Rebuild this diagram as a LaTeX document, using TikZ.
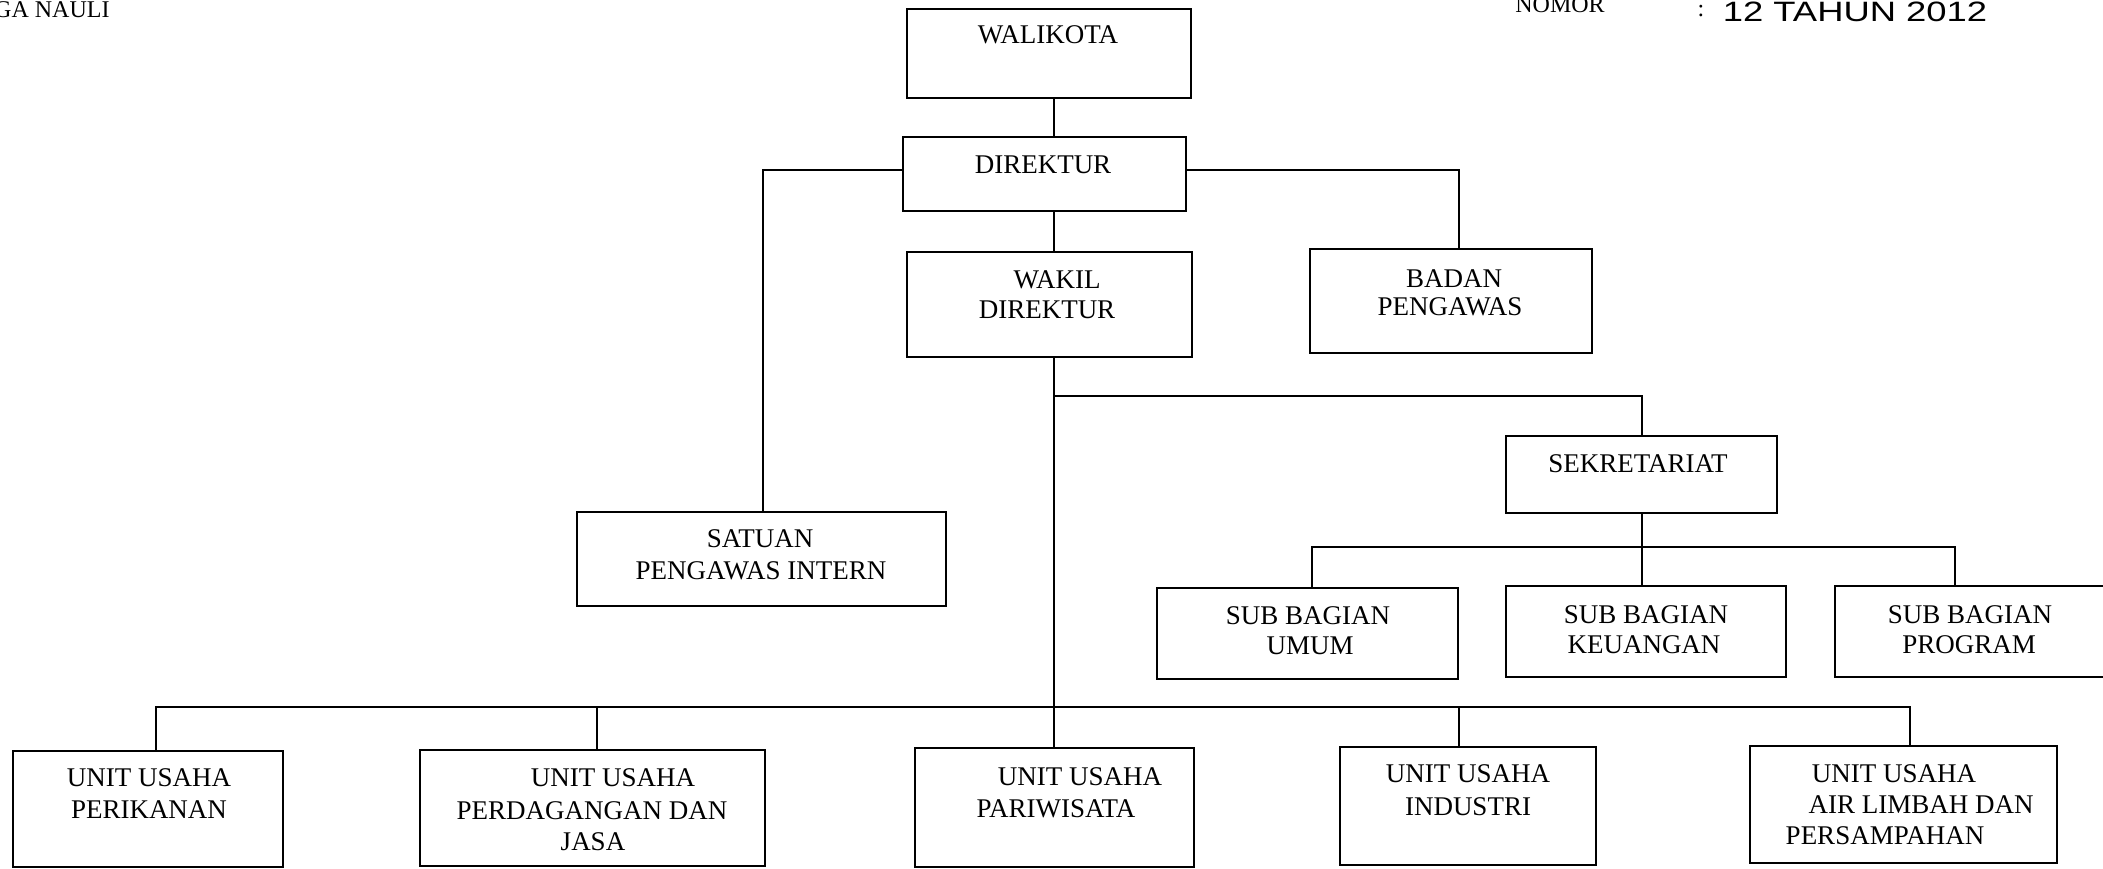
\documentclass[tikz,border=0pt]{standalone}
\usepackage{fontspec}
\setmainfont{Liberation Serif}
\newfontfamily\handfont[FakeStretch=1.3]{Liberation Sans}
\usetikzlibrary{fit}
\begin{document}
\begin{tikzpicture}[x=1pt,y=-1pt,
  orgbox/.style={draw, line width=1.8pt, inner sep=0pt},
  conn/.style={line width=1.6pt},
  lbl/.style={inner sep=0pt, font=\fontsize{27}{32}\selectfont},
  hdr/.style={inner sep=0pt, font=\fontsize{24}{28}\selectfont}]
\useasboundingbox (0,0) rectangle (2103,869);
\clip (0,0) rectangle (2103,869);
% header
\node[hdr, anchor=west] (hl) at (-6,10) {GA NAULI};
\node[hdr] (hn) at (1560,5) {NOMOR};
\node[hdr] (hc) at (1701,11) {:};
\node[inner sep=0pt, font=\handfont\fontsize{28}{32}\selectfont] (hh) at (1855,12) {12 TAHUN 2012};
% boxes
\node[orgbox, fit={(907,9) (1191,98)}] (wal) {};
\node[orgbox, fit={(903,137) (1186,211)}] (dir) {};
\node[orgbox, fit={(907,252) (1192,357)}] (wak) {};
\node[orgbox, fit={(1310,249) (1592,353)}] (bad) {};
\node[orgbox, fit={(577,512) (946,606)}] (spi) {};
\node[orgbox, fit={(1506,436) (1777,513)}] (sek) {};
\node[orgbox, fit={(1157,588) (1458,679)}] (umum) {};
\node[orgbox, fit={(1506,586) (1786,677)}] (keu) {};
\node[orgbox, fit={(1835,586) (2115,677)}] (prog) {};
\node[orgbox, fit={(13,751) (283,867)}] (per) {};
\node[orgbox, fit={(420,750) (765,866)}] (perd) {};
\node[orgbox, fit={(915,748) (1194,867)}] (par) {};
\node[orgbox, fit={(1340,747) (1596,865)}] (ind) {};
\node[orgbox, fit={(1750,746) (2057,863)}] (air) {};
% texts
\node[lbl] (walT) at (1048,35) {WALIKOTA};
\node[lbl] (dirT) at (1043,165) {DIREKTUR};
\node[lbl] (wakT1) at (1057,280) {WAKIL};
\node[lbl] (wakT2) at (1047,310) {DIREKTUR};
\node[lbl] (badT1) at (1454,279) {BADAN};
\node[lbl] (badT2) at (1450,307) {PENGAWAS};
\node[lbl] (spiT1) at (760,539) {SATUAN};
\node[lbl] (spiT2) at (761,571) {PENGAWAS INTERN};
\node[lbl] (sekT) at (1638,464) {SEKRETARIAT};
\node[lbl] (umumT1) at (1308,616) {SUB BAGIAN};
\node[lbl] (umumT2) at (1310,646) {UMUM};
\node[lbl] (keuT1) at (1646,615) {SUB BAGIAN};
\node[lbl] (keuT2) at (1644,645) {KEUANGAN};
\node[lbl] (progT1) at (1970,615) {SUB BAGIAN};
\node[lbl] (progT2) at (1969,645) {PROGRAM};
\node[lbl] (perT1) at (149,778) {UNIT USAHA};
\node[lbl] (perT2) at (149,810) {PERIKANAN};
\node[lbl] (perdT1) at (613,778) {UNIT USAHA};
\node[lbl] (perdT2) at (592,811) {PERDAGANGAN DAN};
\node[lbl] (perdT3) at (593,842) {JASA};
\node[lbl] (parT1) at (1080,777) {UNIT USAHA};
\node[lbl] (parT2) at (1056,809) {PARIWISATA};
\node[lbl] (indT1) at (1468,774) {UNIT USAHA};
\node[lbl] (indT2) at (1468,807) {INDUSTRI};
\node[lbl] (airT1) at (1894,774) {UNIT USAHA};
\node[lbl] (airT2) at (1921,805) {AIR LIMBAH DAN};
\node[lbl] (airT3) at (1885,836) {PERSAMPAHAN};
% guide coordinates
\coordinate (xa) at (1054,0);
\coordinate (xspi) at (763,0);
\coordinate (xbad) at (1459,0);
\coordinate (xsek) at (1642,0);
\coordinate (xumum) at (1312,0);
\coordinate (xprog) at (1955,0);
\coordinate (xper) at (156,0);
\coordinate (xperd) at (597,0);
\coordinate (xind) at (1459,0);
\coordinate (xair) at (1910,0);
\coordinate (ydir) at (0,170);
\coordinate (ysek) at (0,396);
\coordinate (ysub) at (0,547);
\coordinate (ybus) at (0,707);
% connectors
\draw[conn] (wal.south -| xa) -- (dir.north -| xa);
\draw[conn] (dir.south -| xa) -- (wak.north -| xa);
\draw[conn] (wak.south -| xa) -- (par.north -| xa);
\draw[conn] (dir.west |- ydir) -| (xspi |- spi.north);
\draw[conn] (dir.east |- ydir) -| (xbad |- bad.north);
\draw[conn] (xa |- ysek) -| (xsek |- sek.north);
\draw[conn] (sek.south -| xsek) -- (keu.north -| xsek);
\draw[conn] (xumum |- umum.north) |- (xprog |- ysub) -- (xprog |- prog.north);
\draw[conn] (xper |- per.north) |- (xair |- ybus) -- (xair |- air.north);
\draw[conn] (xperd |- ybus) -- (xperd |- perd.north);
\draw[conn] (xind |- ybus) -- (xind |- ind.north);
\end{tikzpicture}
\end{document}
